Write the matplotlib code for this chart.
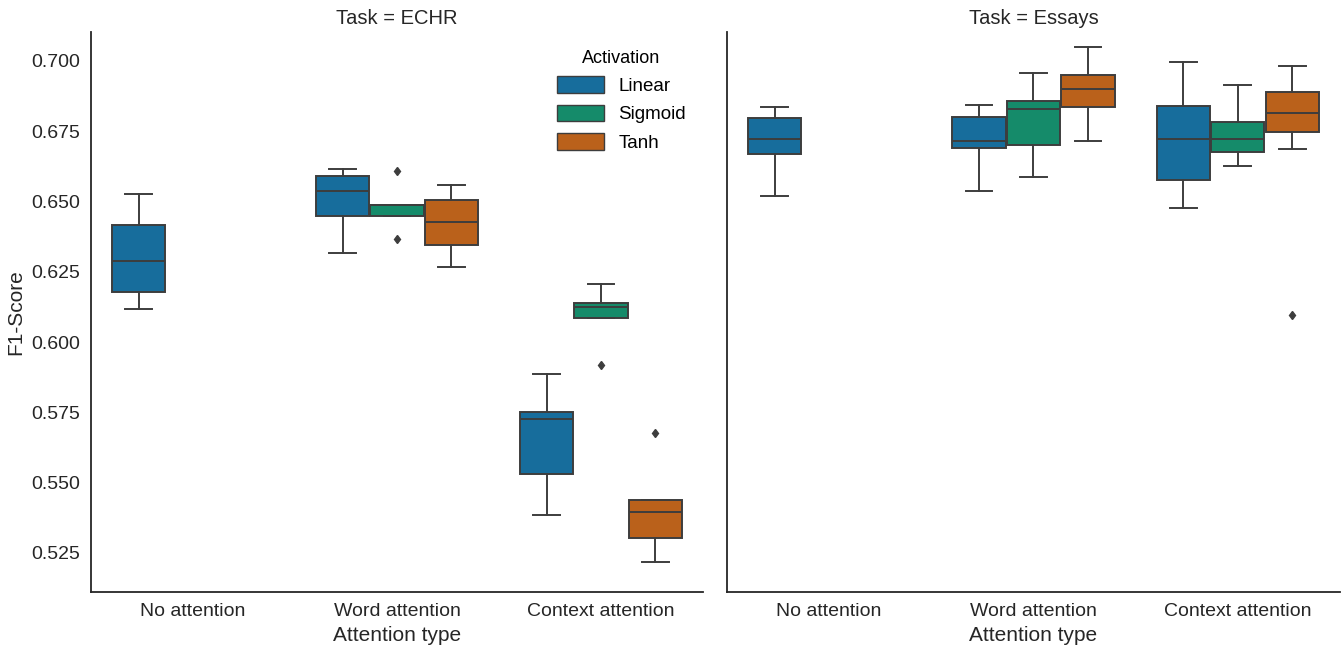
import colorsys
import matplotlib
matplotlib.use("Agg")
import matplotlib.pyplot as plt
from matplotlib.patches import Patch

plt.rcParams["font.family"] = ["Liberation Sans", "DejaVu Sans"]

tasks = ["ECHR", "Essays"]
attention_types = ["No attention", "Word attention", "Context attention"]
activations = ["Linear", "Sigmoid", "Tanh"]
base_colors = ["#0173B2", "#029E73", "#D55E00"]

# box stats: (whislo, q1, med, q3, whishi, fliers)
# None = that activation was not run for that attention type
echr_stats = {
    ("No attention", "Linear"): (0.6118, 0.6177, 0.6287, 0.6417, 0.6528, []),
    ("Word attention", "Linear"): (0.6316, 0.6447, 0.6536, 0.6591, 0.6616, []),
    ("Word attention", "Sigmoid"): (0.6447, 0.6447, 0.6486, 0.6486, 0.6486, [0.6609, 0.6367]),
    ("Word attention", "Tanh"): (0.6268, 0.6346, 0.6426, 0.6506, 0.6558, []),
    ("Context attention", "Linear"): (0.5385, 0.5530, 0.5727, 0.5751, 0.5886, []),
    ("Context attention", "Sigmoid"): (0.6087, 0.6087, 0.6126, 0.6138, 0.6205, [0.5918]),
    ("Context attention", "Tanh"): (0.5216, 0.5304, 0.5394, 0.5437, 0.5437, [0.5676]),
}
essays_stats = {
    ("No attention", "Linear"): (0.6519, 0.6670, 0.6722, 0.6798, 0.6835, []),
    ("Word attention", "Linear"): (0.6536, 0.6689, 0.6717, 0.6802, 0.6844, []),
    ("Word attention", "Sigmoid"): (0.6587, 0.6701, 0.6829, 0.6857, 0.6956, []),
    ("Word attention", "Tanh"): (0.6717, 0.6835, 0.6899, 0.6950, 0.7048, []),
    ("Context attention", "Linear"): (0.6476, 0.6578, 0.6722, 0.6840, 0.6996, []),
    ("Context attention", "Sigmoid"): (0.6625, 0.6676, 0.6722, 0.6783, 0.6916, []),
    ("Context attention", "Tanh"): (0.6688, 0.6747, 0.6815, 0.6891, 0.6983, [0.6097]),
}
all_stats = {"ECHR": echr_stats, "Essays": essays_stats}
yticks = [0.525, 0.550, 0.575, 0.600, 0.625, 0.650, 0.675, 0.700]


def desaturate(hex_color, prop=0.75):
    r, g, b = matplotlib.colors.to_rgb(hex_color)
    h, l, s = colorsys.rgb_to_hls(r, g, b)
    return colorsys.hls_to_rgb(h, l, s * prop)


colors = [desaturate(c) for c in base_colors]
edge = "#3d3d3d"

fig = plt.figure(figsize=(13.43, 6.47), dpi=100)
ax1 = fig.add_axes([0.0678, 0.085, 0.4557, 0.8655])
ax2 = fig.add_axes([0.5413, 0.085, 0.4564, 0.8655], sharey=ax1)

hue_w = 0.8 / len(activations)
for ax, task in zip([ax1, ax2], tasks):
    stats = all_stats[task]
    for i, att in enumerate(attention_types):
        for j, act in enumerate(activations):
            s = stats.get((att, act))
            if s is None:
                continue
            lo, q1, med, q3, hi, fl = s
            pos = i - 0.4 + hue_w * (j + 0.5)
            ax.bxp([dict(whislo=lo, q1=q1, med=med, q3=q3, whishi=hi, fliers=fl)],
                   positions=[pos], widths=hue_w * 0.98, patch_artist=True,
                   boxprops=dict(facecolor=colors[j], edgecolor=edge, linewidth=1.4),
                   medianprops=dict(color=edge, linewidth=1.4),
                   whiskerprops=dict(color=edge, linewidth=1.4),
                   capprops=dict(color=edge, linewidth=1.4),
                   flierprops=dict(marker="d", markersize=4.5, markerfacecolor=edge,
                                   markeredgecolor=edge))
    ax.set_xticks(range(len(attention_types)))
    ax.set_xticklabels(attention_types)
    ax.set_xlim(-0.5, 2.5)
    ax.set_title(f"Task = {task}", fontsize=14.5, color="#262626")
    ax.set_xlabel("Attention type", fontsize=15, color="#262626")
    ax.tick_params(length=0, labelsize=14, colors="#262626", pad=8)
    for side in ["top", "right"]:
        ax.spines[side].set_visible(False)
    for side in ["left", "bottom"]:
        ax.spines[side].set_color("#262626")
        ax.spines[side].set_linewidth(1.3)

ax1.set_ylim(0.5111, 0.7103)
ax1.set_yticks(yticks)
ax1.set_yticklabels([f"{v:.3f}" for v in yticks])
ax1.set_ylabel("F1-Score", fontsize=15, color="#262626")
ax2.tick_params(labelleft=False)

handles = [Patch(facecolor=c, edgecolor=edge, linewidth=1) for c in colors]
leg = ax1.legend(handles, activations, title="Activation", frameon=False,
                 loc="upper right", bbox_to_anchor=(1.0, 0.998), fontsize=13.5,
                 title_fontsize=13, handlelength=2.5, handleheight=1.0,
                 labelspacing=0.5)

fig.savefig("out.png", dpi=100)
